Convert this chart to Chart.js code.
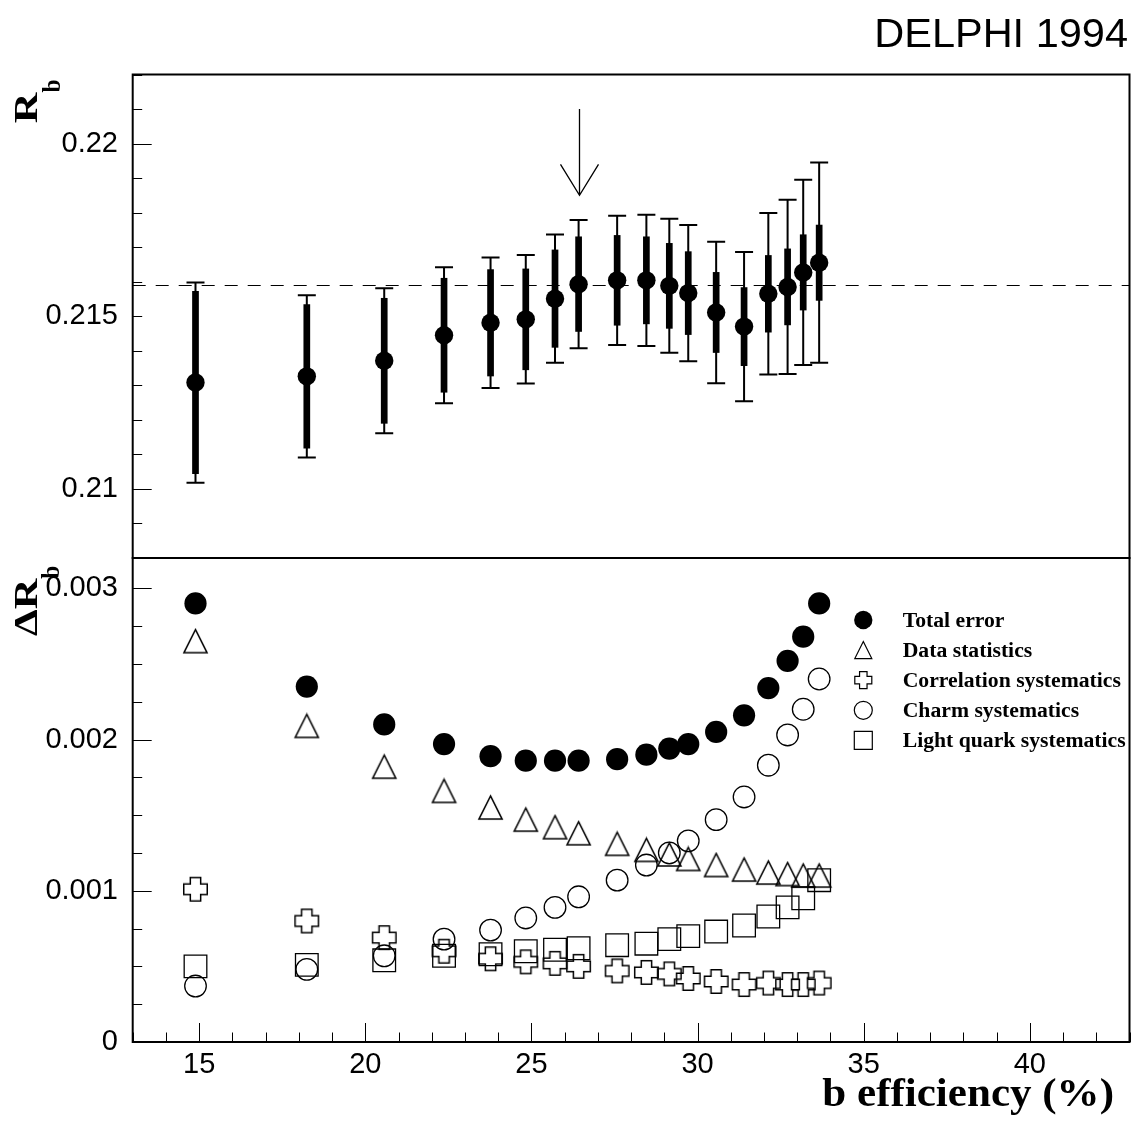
<!DOCTYPE html>
<html>
<head>
<meta charset="utf-8">
<script src="https://cdn.jsdelivr.net/npm/chart.js"></script>
<style>
  html, body { margin: 0; padding: 0; background: #fff; }
  #wrap { position: relative; width: 1136px; height: 1122px; }
  canvas { position: absolute; left: 0; top: 0; }
</style>
</head>
<body>
<div id="wrap">
  <canvas id="top" width="1136" height="1122"></canvas>
  <canvas id="bot" width="1136" height="1122"></canvas>
</div>
<script>
// b-tagging efficiency (%) of each working point
const efficiency = [14.89, 18.24, 20.57, 22.37, 23.77, 24.83, 25.71, 26.42, 27.58,
                    28.46, 29.15, 29.72, 30.56, 31.40, 32.13, 32.71, 33.18, 33.66];
// measured Rb
const rb = [0.21308, 0.21326, 0.21371, 0.21445, 0.21481, 0.21491, 0.21551, 0.21593, 0.21604,
            0.21604, 0.21588, 0.21567, 0.21511, 0.21470, 0.21565, 0.21585, 0.21627, 0.21655];
// error breakdown
const totalError = [0.00290, 0.00235, 0.00210, 0.00197, 0.00189, 0.00186, 0.00186, 0.00186, 0.00187,
                    0.00190, 0.00194, 0.00197, 0.00205, 0.00216, 0.00234, 0.00252, 0.00268, 0.00290];
const dataStat = [0.00265, 0.00209, 0.00182, 0.00166, 0.00155, 0.00147, 0.00142, 0.00138, 0.00131,
                  0.00127, 0.00124, 0.00121, 0.00117, 0.00114, 0.00112, 0.00111, 0.00110, 0.00110];
const corrSyst = [0.00101, 0.00080, 0.00069, 0.00060, 0.00055, 0.00053, 0.00052, 0.00050, 0.00047,
                  0.00046, 0.00045, 0.00042, 0.00040, 0.00038, 0.00039, 0.00038, 0.00038, 0.00039];
const charmSyst = [0.00037, 0.00048, 0.00057, 0.00068, 0.00074, 0.00082, 0.00089, 0.00096, 0.00107,
                   0.00117, 0.00125, 0.00133, 0.00147, 0.00162, 0.00183, 0.00203, 0.00220, 0.00240];
const lightSyst = [0.00050, 0.00051, 0.00054, 0.00057, 0.00058, 0.00060, 0.00061, 0.00062, 0.00064,
                   0.00065, 0.00068, 0.00070, 0.00073, 0.00077, 0.00083, 0.00089, 0.00095, 0.00107];

const seriesNames = ['Total error', 'Data statistics', 'Correlation systematics',
                     'Charm systematics', 'Light quark systematics'];
const rbTicks = [0.21, 0.215, 0.22];
const dRbTicks = [0, 0.001, 0.002, 0.003];
const effTicks = [15, 20, 25, 30, 35, 40];
const rbRef = 0.2159;      // dashed line
const cutEff = 26.42;      // arrow: chosen working point
const arrowTop = 0.2210, arrowTip = 0.2185;

const fmt = v => String(parseFloat(Number(v).toFixed(5)));
const LEFT = 132.7, RIGHT_PAD = 6.5, SPLIT = 558, BOTTOM = 1042;
const LABEL_FONT = '29px "Liberation Sans"';

// marker shapes (ROOT style)
function markerPath(g, kind, cx, cy, s) {
  const h = s / 2;
  g.beginPath();
  if (kind === 'triangle') {
    g.moveTo(cx, cy - h); g.lineTo(cx + h, cy + h); g.lineTo(cx - h, cy + h); g.closePath();
  } else if (kind === 'cross') {
    const a = s * 0.22;
    g.moveTo(cx - a, cy - h); g.lineTo(cx + a, cy - h); g.lineTo(cx + a, cy - a);
    g.lineTo(cx + h, cy - a); g.lineTo(cx + h, cy + a); g.lineTo(cx + a, cy + a);
    g.lineTo(cx + a, cy + h); g.lineTo(cx - a, cy + h); g.lineTo(cx - a, cy + a);
    g.lineTo(cx - h, cy + a); g.lineTo(cx - h, cy - a); g.lineTo(cx - a, cy - a); g.closePath();
  } else if (kind === 'square') {
    g.rect(cx - h, cy - h, s, s);
  } else {
    g.arc(cx, cy, h, 0, Math.PI * 2);
  }
}
function markerCanvas(kind, size) {
  const c = document.createElement('canvas');
  const n = Math.ceil(size) + 3;
  c.width = n; c.height = n;
  const g = c.getContext('2d');
  g.strokeStyle = '#000'; g.lineWidth = 1.5;
  markerPath(g, kind, n / 2, n / 2, size);
  g.stroke();
  return c;
}

function drawText(ctx, txt, x, y, font, sx, align) {
  ctx.save();
  ctx.translate(x, y); ctx.scale(sx, 1);
  ctx.font = font; ctx.textAlign = align; ctx.textBaseline = 'alphabetic'; ctx.fillStyle = '#000';
  ctx.fillText(txt, 0, 0);
  ctx.restore();
}
// rotated axis title built from pieces (for subscripts)
function drawRotated(ctx, parts, x, y) {
  ctx.save();
  ctx.translate(x, y); ctx.rotate(-Math.PI / 2);
  ctx.fillStyle = '#000'; ctx.textBaseline = 'alphabetic'; ctx.textAlign = 'left';
  let pos = 0;
  for (const p of parts) {
    ctx.save();
    ctx.font = p.font;
    ctx.translate(pos, p.dy || 0); ctx.scale(p.sx, 1);
    ctx.fillText(p.text, 0, 0);
    pos += ctx.measureText(p.text).width * p.sx + (p.gap || 0);
    ctx.restore();
  }
  ctx.restore();
}

function drawYTicks(ctx, scale, a, step, majorEvery, lo, hi) {
  ctx.beginPath();
  for (let k = Math.round(lo / step); k * step <= hi + step * 1e-6; k++) {
    const len = (k % majorEvery === 0) ? 19 : 9.5;
    const py = Math.round(scale.getPixelForValue(k * step)) + 0.5;
    ctx.moveTo(a.left, py); ctx.lineTo(a.left + len, py);
  }
  ctx.stroke();
}
function drawYLabels(ctx, scale, a, values) {
  ctx.font = LABEL_FONT; ctx.fillStyle = '#000';
  ctx.textAlign = 'right'; ctx.textBaseline = 'middle';
  values.forEach(v => ctx.fillText(fmt(v), a.left - 14.7, scale.getPixelForValue(v)));
}
function drawFrame(ctx, a) {
  ctx.lineWidth = 2; ctx.strokeStyle = '#000';
  ctx.strokeRect(a.left, a.top, a.right - a.left, a.bottom - a.top);
}

const topPlugin = {
  id: 'topPanel',
  beforeDatasetsDraw(chart) {
    const { ctx, chartArea: a, scales: { x, y } } = chart;
    ctx.save();
    ctx.strokeStyle = '#000';
    ctx.lineWidth = 1; ctx.setLineDash([13, 10]);
    const yr = Math.round(y.getPixelForValue(rbRef)) + 0.5;
    ctx.beginPath(); ctx.moveTo(a.left, yr); ctx.lineTo(a.right, yr); ctx.stroke();
    ctx.setLineDash([]);
    efficiency.forEach((e, i) => {
      const px = x.getPixelForValue(e);
      const hi = y.getPixelForValue(rb[i] + totalError[i]);
      const lo = y.getPixelForValue(rb[i] - totalError[i]);
      ctx.lineWidth = 2;
      ctx.beginPath();
      ctx.moveTo(px, hi); ctx.lineTo(px, lo);
      ctx.moveTo(px - 9, hi); ctx.lineTo(px + 9, hi);
      ctx.moveTo(px - 9, lo); ctx.lineTo(px + 9, lo);
      ctx.stroke();
      ctx.lineWidth = 6.7;
      ctx.beginPath();
      ctx.moveTo(px, y.getPixelForValue(rb[i] + dataStat[i]));
      ctx.lineTo(px, y.getPixelForValue(rb[i] - dataStat[i]));
      ctx.stroke();
    });
    ctx.restore();
  },
  afterDraw(chart) {
    const { ctx, chartArea: a, scales: { x, y } } = chart;
    ctx.save();
    ctx.strokeStyle = '#000'; ctx.lineWidth = 1;
    drawYTicks(ctx, y, a, 0.001, 10, 0.208, 0.222);
    drawYLabels(ctx, y, a, rbTicks);
    // arrow
    const ax = Math.round(x.getPixelForValue(cutEff)) + 0.5;
    const y1 = y.getPixelForValue(arrowTop), y2 = y.getPixelForValue(arrowTip);
    ctx.lineWidth = 1.3;
    ctx.beginPath();
    ctx.moveTo(ax, y1); ctx.lineTo(ax, y2);
    ctx.moveTo(ax - 19, y2 - 31); ctx.lineTo(ax, y2); ctx.lineTo(ax + 19, y2 - 31);
    ctx.stroke();
    drawFrame(ctx, a);
    drawText(ctx, 'DELPHI 1994', 1128, 47, '41.5px "Liberation Sans"', 1, 'right');
    drawRotated(ctx, [
      { text: 'R', font: 'bold 34px "Liberation Serif"', sx: 1.25 },
      { text: 'b', font: 'bold 26px "Liberation Serif"', sx: 0.9, dy: 22.5 }
    ], 37.3, 123.3);
    ctx.restore();
  }
};

const kinds = ['filled', 'triangle', 'cross', 'circle', 'square'];
const botPlugin = {
  id: 'botPanel',
  afterDraw(chart) {
    const { ctx, chartArea: a, scales: { x, y } } = chart;
    ctx.save();
    ctx.strokeStyle = '#000'; ctx.lineWidth = 1;
    drawYTicks(ctx, y, a, 0.00025, 4, 0, 0.0032);
    drawYLabels(ctx, y, a, dRbTicks);
    ctx.beginPath();
    for (let k = 13; k <= 43; k++) {
      const len = (k % 5 === 0) ? 19 : 9.5;
      const px = Math.round(x.getPixelForValue(k)) + 0.5;
      ctx.moveTo(px, a.bottom); ctx.lineTo(px, a.bottom - len);
    }
    ctx.stroke();
    ctx.font = LABEL_FONT; ctx.fillStyle = '#000';
    ctx.textAlign = 'center'; ctx.textBaseline = 'middle';
    effTicks.forEach(v => ctx.fillText(fmt(v), x.getPixelForValue(v), a.bottom + 22.5));
    drawFrame(ctx, a);
    // legend
    seriesNames.forEach((name, i) => {
      const cy = 620 + i * 30.1, cx = 863.3;
      ctx.lineWidth = 1.2; ctx.strokeStyle = '#000'; ctx.fillStyle = '#000';
      if (kinds[i] === 'filled') { markerPath(ctx, 'circle', cx, cy, 18.3); ctx.fill(); }
      else { markerPath(ctx, kinds[i], cx, cy, kinds[i] === 'square' || kinds[i] === 'circle' ? 18 : 17); ctx.stroke(); }
      drawText(ctx, name, 902.7, cy + 6.8, 'bold 21.7px "Liberation Serif"', 1, 'left');
    });
    drawText(ctx, 'b efficiency (%)', 1114, 1106, 'bold 41px "Liberation Serif"', 1.05, 'right');
    drawRotated(ctx, [
      { text: '\u0394', font: 'bold 34px "Liberation Serif"', sx: 1.25 },
      { text: 'R', font: 'bold 34px "Liberation Serif"', sx: 1.25 },
      { text: 'b', font: 'bold 26px "Liberation Serif"', sx: 0.9, dy: 22.5, gap: 0 }
    ], 36.7, 636);
    ctx.restore();
  }
};

const baseOptions = (padding, ymin, ymax) => ({
  responsive: false, animation: false, devicePixelRatio: 1, events: [],
  layout: { padding, autoPadding: false },
  plugins: { legend: { display: false }, tooltip: { enabled: false } },
  scales: {
    x: { type: 'linear', min: 13, max: 43, display: false },
    y: { type: 'linear', min: ymin, max: ymax, display: false }
  }
});

new Chart(document.getElementById('top'), {
  type: 'scatter',
  data: {
    datasets: [{
      data: efficiency.map((e, i) => ({ x: e, y: rb[i] })),
      pointStyle: 'circle', pointRadius: 9.2, pointHoverRadius: 9.2,
      backgroundColor: '#000', borderColor: '#000', borderWidth: 0
    }]
  },
  options: baseOptions({ left: LEFT, top: 74.5, right: RIGHT_PAD, bottom: 1122 - SPLIT }, 0.208, 0.222),
  plugins: [topPlugin]
});

const openStyle = { backgroundColor: 'rgba(0,0,0,0)', borderColor: '#000', borderWidth: 1.3 };
const pts = arr => efficiency.map((e, i) => ({ x: e, y: arr[i] }));
new Chart(document.getElementById('bot'), {
  type: 'scatter',
  data: {
    datasets: [
      { label: seriesNames[0], data: pts(totalError), pointStyle: 'circle', pointRadius: 11.1,
        backgroundColor: '#000', borderColor: '#000', borderWidth: 0 },
      { label: seriesNames[1], data: pts(dataStat), pointStyle: markerCanvas('triangle', 23.2), pointRadius: 11 },
      { label: seriesNames[2], data: pts(corrSyst), pointStyle: markerCanvas('cross', 23.5), pointRadius: 11 },
      { label: seriesNames[3], data: pts(charmSyst), pointStyle: 'circle', pointRadius: 10.8, ...openStyle },
      { label: seriesNames[4], data: pts(lightSyst), pointStyle: 'rect', pointRadius: 16, ...openStyle }
    ]
  },
  options: baseOptions({ left: LEFT, top: SPLIT, right: RIGHT_PAD, bottom: 1122 - BOTTOM }, 0, 0.0032),
  plugins: [botPlugin]
});
</script>
</body>
</html>
